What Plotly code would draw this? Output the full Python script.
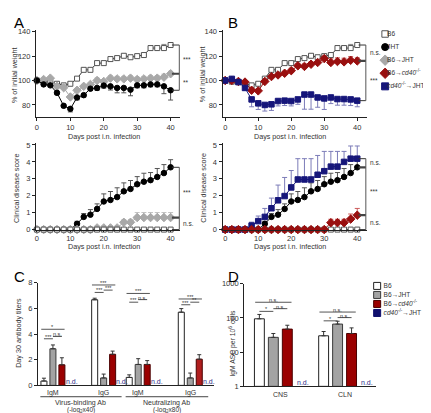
import math
import plotly.graph_objects as go

W, H = 431, 413
FONT = "Liberation Sans, Arial, sans-serif"
TXT = "#333333"


def fx(p):
    return p / W


def fy(p):
    return 1 - p / H


# ---------------- data ----------------
days = [0, 2, 4, 6, 8, 10, 12, 14, 16, 18, 20, 22, 24, 26, 28, 30, 32, 34, 36, 38, 40]
day_ticks = [0, 10, 20, 30, 40]
weight_ticks = [80, 100, 120, 140]
score_ticks = [0, 1, 2, 3, 4, 5]

# % of initial weight
weight_b6 = [100, 99, 98.7, 97.3, 96, 97.3, 101.5, 108.7, 108.7, 114.2, 114.2, 117.5, 118.3, 120.2, 119, 119.9, 120.8, 126.5, 126.5, 126.5, 129]
weight_b6_err = [0, 1, 1, 1, 1, 1, 1, 1.5, 1.5, 1.5, 1.5, 1.5, 1.5, 1.5, 1.5, 1.5, 1.5, 2, 2, 3, 2]
weight_jht = [100, 96.8, 96, 89.9, 79.3, 76.8, 86.1, 88, 93.3, 93.9, 95.8, 95.2, 93.9, 93.9, 92.5, 96, 96, 96.8, 96.8, 95.2, 92]
weight_jht_err = [0, 1, 1, 1.5, 1.5, 2.5, 2, 1.5, 1.5, 2, 2, 3, 4, 4, 5, 2, 2, 2, 2, 6, 8]
weight_b6jht = [100, 100.8, 101.9, 95.2, 94.1, 86.5, 92, 95.2, 96.8, 100, 99.2, 101.9, 101.3, 101.3, 101.9, 100.8, 101.3, 101.9, 101.9, 102.7, 105.5]
weight_b6jht_err = [0, 1, 1, 1.5, 1.5, 1.5, 1.5, 1.5, 1.5, 2, 1.5, 2, 2, 2, 2, 2, 2, 2, 2, 2.5, 2]
weight_b6cd40 = [100, 100, 99.2, 98.7, 92, 91.5, 99.2, 103.2, 104.5, 105.9, 108, 112, 111.5, 113.3, 114.7, 117.9, 114.7, 115.5, 115.2, 116.5, 116]
weight_b6cd40_err = [0, 1, 1, 1, 1.5, 1.5, 1.5, 1.5, 1.5, 1.5, 2, 2, 2, 2, 2, 2, 3, 3, 3, 3, 2.5]
weight_cd40jht = [100, 101.3, 98.7, 93.9, 84.5, 81.3, 80, 80.5, 83.2, 83.5, 83.2, 84.5, 88.5, 88.5, 86.1, 85.3, 86.1, 84.8, 84.8, 84.5, 83.5]
weight_cd40jht_err = [0, 1, 2, 2, 6, 5, 5, 5, 4, 4, 4, 4, 12, 12, 8, 9, 5, 5, 5, 5, 5]

# clinical disease score
score_b6 = [0, 0, 0, 0, 0, 0, 0, 0, 0, 0, 0, 0, 0, 0, 0, 0, 0, 0, 0, 0, 0]
score_jht = [0, 0, 0, 0, 0, 0, 0.34, 0.75, 0.88, 1.22, 1.66, 1.75, 1.92, 2.26, 2.4, 2.68, 2.83, 2.92, 3.11, 3.34, 3.68]
score_jht_err = [0, 0, 0, 0, 0, 0, 0.15, 0.2, 0.3, 0.3, 0.45, 0.5, 0.55, 0.5, 0.5, 0.45, 0.5, 0.45, 0.5, 0.5, 0.45]
score_b6jht = [0, 0, 0, 0, 0, 0, 0, 0, 0, 0.1, 0.1, 0.1, 0.1, 0.43, 0.43, 0.71, 0.71, 0.71, 0.71, 0.71, 0.71]
score_b6jht_err = [0, 0, 0, 0, 0, 0, 0, 0, 0, 0.1, 0.1, 0.1, 0.1, 0.15, 0.15, 0.3, 0.3, 0.3, 0.3, 0.3, 0.3]
score_b6cd40 = [0, 0, 0, 0, 0, 0, 0, 0, 0, 0, 0, 0, 0, 0, 0, 0, 0.41, 0.41, 0.41, 0.62, 0.85]
score_b6cd40_err = [0, 0, 0, 0, 0, 0, 0, 0, 0, 0, 0, 0, 0, 0, 0, 0, 0.2, 0.2, 0.2, 0.3, 0.4]
score_cd40jht = [0, 0, 0, 0, 0.24, 0.5, 0.75, 1.26, 1.73, 1.98, 2.49, 2.96, 2.96, 2.96, 3.24, 3.45, 3.72, 3.72, 4.0, 4.19, 4.19]
score_cd40jht_err = [0, 0, 0, 0, 0.2, 0.3, 0.5, 0.6, 0.9, 1.1, 1.0, 1.23, 1.23, 1.23, 1.14, 1.17, 0.9, 0.9, 0.62, 0.75, 0.75]

# panel C: day 30 antibody titers
titer_groups = ["IgM", "IgG", "IgM", "IgG"]
titer_group_start = [0, 5.65, 9.5, 15.3]
titer_b6 = [0.34, 6.67, 0.62, 5.7]
titer_b6_err = [0.22, 0.12, 0.2, 0.28]
titer_b6jht = [2.85, 0.58, 1.63, 0.58]
titer_b6jht_err = [0.3, 0.3, 0.45, 0.38]
titer_b6cd40 = [1.6, 2.42, 1.63, 2.04]
titer_b6cd40_err = [0.55, 0.25, 0.3, 0.35]
titer_sections = ["Virus-binding Ab", "Neutralizing Ab"]
titer_section_units = ["(-log<sub>2</sub>x40)", "(-log<sub>2</sub>x80)"]
titer_sig_group = [0, 0, 0, 1, 1, 1, 2, 2, 2, 3, 3, 3]
titer_sig_from = [0, 0, 1, 0, 0, 1, 0, 0, 1, 0, 0, 1]
titer_sig_to = [2, 1, 2, 2, 1, 2, 2, 1, 2, 2, 1, 2]
titer_sig_level = [4.37, 3.63, 3.81, 7.82, 7.24, 7.42, 7.16, 6.48, 6.68, 6.73, 6.28, 6.48]
titer_sig_label = ["*", "***", "n.s.", "***", "***", "***", "***", "***", "n.s.", "***", "***", "**"]

# panel D: IgM ASC per 10^6 cells
asc_tissues = ["CNS", "CLN"]
asc_group_start = [0, 4.6]
asc_b6 = [93, 29]
asc_b6_err = [32, 10]
asc_b6jht = [26, 65]
asc_b6jht_err = [8, 14]
asc_b6cd40 = [46, 34]
asc_b6cd40_err = [14, 16]
asc_sig_group = [0, 0, 0, 1, 1, 1]
asc_sig_from = [0, 0, 1, 0, 0, 1]
asc_sig_to = [2, 1, 2, 2, 1, 2]
asc_sig_level = [286, 155, 186, 148, 82, 102]
asc_sig_label = ["n.s.", "*", "n.s.", "n.s.", "*", "n.s."]

series_labels = ["B6", "JHT", "B6→JHT", "B6→<i>cd40</i><sup>-/-</sup>", "<i>cd40</i><sup>-/-</sup>→JHT"]
bar_labels = ["B6", "B6→JHT", "B6→<i>cd40</i><sup>-/-</sup>", "<i>cd40</i><sup>-/-</sup>→JHT"]

# ---------------- styles ----------------
STY = {
    "B6": dict(symbol="square", size=5, fill="white", edge="#555555", line="#333333", err="#888888"),
    "JHT": dict(symbol="circle", size=5.5, fill="#000000", edge="#000000", line="#000000", err="#555555"),
    "B6>JHT": dict(symbol="diamond", size=6.5, fill="#a8a8a8", edge="#a8a8a8", line="#a8a8a8", err="#c4c4c4"),
    "B6>cd40": dict(symbol="diamond", size=6.5, fill="#990f0f", edge="#990f0f", line="#990f0f", err="#cc5a5a"),
    "cd40>JHT": dict(symbol="square", size=5.5, fill="#16167a", edge="#16167a", line="#16167a", err="#7c7cb8"),
}
ORDER = ["B6", "JHT", "B6>JHT", "B6>cd40", "cd40>JHT"]
BAR_FILL = ["white", "#a3a3a3", "#9a0000", "#10106e"]
BAR_EDGE = ["#222222", "#3a3a3a", "#4a0000", "#10106e"]

fig = go.Figure()


def line_trace(xa, ya, y, err, key, up=True):
    s = STY[key]
    zeros = [0 for _ in err]
    fig.add_trace(go.Scatter(
        x=days, y=y, xaxis=xa, yaxis=ya, mode="lines+markers", cliponaxis=False,
        line=dict(color=s["line"], width=1),
        marker=dict(symbol=s["symbol"], size=s["size"], color=s["fill"],
                    line=dict(color=s["edge"], width=1)),
        error_y=dict(type="data", symmetric=False,
                     array=err if up else zeros,
                     arrayminus=zeros if up else err,
                     color=s["err"], thickness=1, width=2.5),
        showlegend=False, hoverinfo="skip"))


# A top
line_trace("x", "y", weight_b6, weight_b6_err, "B6", True)
line_trace("x", "y", weight_b6jht, weight_b6jht_err, "B6>JHT", True)
line_trace("x", "y", weight_jht, weight_jht_err, "JHT", False)
# A bottom
line_trace("x2", "y2", score_jht, score_jht_err, "JHT", True)
line_trace("x2", "y2", score_b6jht, score_b6jht_err, "B6>JHT", True)
line_trace("x2", "y2", score_b6, score_b6, "B6", True)
# B top
line_trace("x3", "y3", weight_b6, weight_b6_err, "B6", True)
line_trace("x3", "y3", weight_b6cd40, weight_b6cd40_err, "B6>cd40", True)
line_trace("x3", "y3", weight_cd40jht, weight_cd40jht_err, "cd40>JHT", False)
# B bottom
line_trace("x4", "y4", score_b6, score_b6, "B6", True)
line_trace("x4", "y4", score_jht, score_jht_err, "JHT", True)
line_trace("x4", "y4", score_cd40jht, score_cd40jht_err, "cd40>JHT", True)
line_trace("x4", "y4", score_b6cd40, score_b6cd40_err, "B6>cd40", True)

shapes = []
annots = []


def bracket(xa, ya, xpos, levels, labels, label_px):
    n = len(levels)
    for i, lv in enumerate(levels):
        mid = 0 < i < n - 1
        shapes.append(dict(type="line", xref=xa, yref=ya, x0=40.4, x1=xpos, y0=lv, y1=lv,
                           line=dict(color="#444444" if mid else "#333333", width=2.2 if mid else 1)))
    shapes.append(dict(type="line", xref=xa, yref=ya, x0=xpos, x1=xpos, y0=levels[0], y1=levels[-1],
                       line=dict(color="#555555", width=1)))
    for i, lab in enumerate(labels):
        annots.append(dict(xref="paper", yref=ya, x=fx(label_px), y=(levels[i] + levels[i + 1]) / 2,
                           text=lab, showarrow=False, xanchor="left", yanchor="middle",
                           font=dict(family=FONT, size=6.5, color=TXT)))


bracket("x", "y", 42.6, [weight_b6[-1], weight_b6jht[-1], weight_jht[-1]], ["***", "**"], 172)
bracket("x2", "y2", 42.6, [score_jht[-1], score_b6jht[-1], score_b6[-1]], ["***", "n.s."], 172)
bracket("x3", "y3", 42.6, [weight_b6[-1], weight_b6cd40[-1], weight_cd40jht[-1]], ["n.s.", "***"], 359.5)
bracket("x4", "y4", 42.6, [score_cd40jht[-1], score_jht[-1], score_b6cd40[-1], score_b6[-1]],
        ["n.s.", "***", "n.s."], 359.5)

# ---------------- panel C bars ----------------
titer_vals = [titer_b6, titer_b6jht, titer_b6cd40]
titer_errs = [titer_b6_err, titer_b6jht_err, titer_b6cd40_err]
for k in range(3):
    col = BAR_FILL[k]
    if k == 2:
        col = [BAR_FILL[2], BAR_FILL[2], BAR_FILL[2], "#b01e1e"]
    fig.add_trace(go.Bar(
        x=[g + k for g in titer_group_start], y=titer_vals[k], width=0.67,
        xaxis="x5", yaxis="y5", marker=dict(color=col, line=dict(color=BAR_EDGE[k], width=1)),
        error_y=dict(type="data", symmetric=False, array=titer_errs[k],
                     arrayminus=[0 for _ in titer_errs[k]], color="#333333", thickness=1, width=2),
        showlegend=False, hoverinfo="skip"))

for gi, g in enumerate(titer_group_start):
    annots.append(dict(xref="x5", yref="y5", x=g + 3.1, y=0, text="n.d.", showarrow=False,
                       xanchor="center", yanchor="bottom", yshift=-2,
                       font=dict(family=FONT, size=7, color="#2a2a8a")))
    annots.append(dict(xref="x5", yref="paper", x=g + 1, y=fy(389), text=titer_groups[gi],
                       showarrow=False, xanchor="center", yanchor="middle",
                       font=dict(family=FONT, size=7, color=TXT)))

for i in range(len(titer_sig_level)):
    g = titer_group_start[titer_sig_group[i]]
    a, b = titer_sig_from[i], titer_sig_to[i]
    long = (b - a) == 2
    x0 = g + a - (0.3 if long else 0)
    x1 = g + b + (0.3 if long else 0)
    shapes.append(dict(type="line", xref="x5", yref="y5", x0=x0, x1=x1,
                       y0=titer_sig_level[i], y1=titer_sig_level[i],
                       line=dict(color="#555555", width=1)))
    annots.append(dict(xref="x5", yref="y5", x=(x0 + x1) / 2, y=titer_sig_level[i],
                       text=titer_sig_label[i], showarrow=False, xanchor="center", yanchor="bottom",
                       yshift=-3, font=dict(family=FONT, size=5.5, color=TXT)))

sec_bounds = [(titer_group_start[0] - 0.4, titer_group_start[1] + 3.0),
              (titer_group_start[2] - 0.4, titer_group_start[3] + 3.0)]
for si, (a, b) in enumerate(sec_bounds):
    shapes.append(dict(type="line", xref="x5", yref="paper", x0=a, x1=b, y0=fy(393.3), y1=fy(393.3),
                       line=dict(color="#444444", width=1)))
    annots.append(dict(xref="x5", yref="paper", x=(a + b) / 2, y=fy(399.5), text=titer_sections[si],
                       showarrow=False, xanchor="center", yanchor="middle",
                       font=dict(family=FONT, size=7, color=TXT)))
    annots.append(dict(xref="x5", yref="paper", x=(a + b) / 2, y=fy(406.5), text=titer_section_units[si],
                       showarrow=False, xanchor="center", yanchor="middle", borderpad=0,
                       font=dict(family=FONT, size=6.5, color=TXT)))

# ---------------- panel D bars ----------------
asc_vals = [asc_b6, asc_b6jht, asc_b6cd40]
asc_errs = [asc_b6_err, asc_b6jht_err, asc_b6cd40_err]
for k in range(3):
    fig.add_trace(go.Bar(
        x=[g + k for g in asc_group_start], y=asc_vals[k], width=0.71, base=1,
        xaxis="x6", yaxis="y6", marker=dict(color=BAR_FILL[k], line=dict(color=BAR_EDGE[k], width=1)),
        error_y=dict(type="data", symmetric=False, array=asc_errs[k],
                     arrayminus=[0 for _ in asc_errs[k]], color="#333333", thickness=1, width=2),
        showlegend=False, hoverinfo="skip"))

for gi, g in enumerate(asc_group_start):
    annots.append(dict(xref="x6", yref="paper", x=g + 3.1, y=fy(382.7), text="n.d.", showarrow=False,
                       xanchor="center", yanchor="bottom", yshift=-2,
                       font=dict(family=FONT, size=7, color="#2a2a8a")))
    annots.append(dict(xref="x6", yref="paper", x=g + 1.5, y=fy(391.5), text=asc_tissues[gi],
                       showarrow=False, xanchor="center", yanchor="middle",
                       font=dict(family=FONT, size=7, color=TXT)))

for i in range(len(asc_sig_level)):
    g = asc_group_start[asc_sig_group[i]]
    a, b = asc_sig_from[i], asc_sig_to[i]
    long = (b - a) == 2
    x0 = g + a - (0.3 if long else 0)
    x1 = g + b + (0.3 if long else 0)
    shapes.append(dict(type="line", xref="x6", yref="y6", x0=x0, x1=x1,
                       y0=asc_sig_level[i], y1=asc_sig_level[i],
                       line=dict(color="#555555", width=1)))
    annots.append(dict(xref="x6", yref="y6", x=(x0 + x1) / 2, y=math.log10(asc_sig_level[i]),
                       text=asc_sig_label[i], showarrow=False, xanchor="center", yanchor="bottom",
                       yshift=-3, font=dict(family=FONT, size=5.5, color=TXT)))

# ---------------- legends (hidden helper axes) ----------------
for i, key in enumerate(ORDER):
    s = STY[key]
    fig.add_trace(go.Scatter(
        x=[7], y=[-i], xaxis="x7", yaxis="y7", mode="markers", cliponaxis=False,
        marker=dict(symbol=s["symbol"], size=s["size"] + 1.5, color=s["fill"],
                    line=dict(color=s["edge"], width=1)),
        showlegend=False, hoverinfo="skip"))
    fig.add_trace(go.Scatter(
        x=[9], y=[-i], xaxis="x7", yaxis="y7", mode="text", cliponaxis=False,
        text=[series_labels[i]], textposition="middle right",
        textfont=dict(family=FONT, size=6.6, color=TXT), showlegend=False, hoverinfo="skip"))

for i, lab in enumerate(bar_labels):
    fig.add_trace(go.Scatter(
        x=[9], y=[-i], xaxis="x8", yaxis="y8", mode="markers", cliponaxis=False,
        marker=dict(symbol="square", size=7, color=BAR_FILL[i],
                    line=dict(color=BAR_EDGE[i] if i else "#222222", width=1)),
        showlegend=False, hoverinfo="skip"))
    fig.add_trace(go.Scatter(
        x=[15.5], y=[-i], xaxis="x8", yaxis="y8", mode="text", cliponaxis=False,
        text=[lab], textposition="middle right",
        textfont=dict(family=FONT, size=6.6, color=TXT), showlegend=False, hoverinfo="skip"))

# ---------------- titles / labels ----------------
def txt(x, y, t, size=7.2, angle=0, xanchor="center", color=TXT):
    annots.append(dict(xref="paper", yref="paper", x=fx(x), y=fy(y), text=t, showarrow=False,
                       xanchor=xanchor, yanchor="middle", textangle=angle,
                       font=dict(family=FONT, size=size, color=color)))


txt(3, 11, "A", 15, xanchor="left", color="#000000")
txt(218, 11, "B", 15, xanchor="left", color="#000000")
txt(3, 270, "C", 15, xanchor="left", color="#000000")
txt(218, 270, "D", 15, xanchor="left", color="#000000")
txt(95, 127, "Days post i.n. infection")
txt(282, 127, "Days post i.n. infection")
txt(95, 240, "Days post i.n. infection")
txt(282, 240, "Days post i.n. infection")
txt(5.5, 64, "% of initial weight", angle=-90)
txt(194, 64, "% of initial weight", angle=-90)
txt(7, 180, "Clinical disease score", angle=-90)
txt(195, 180, "Clinical disease score", angle=-90)
txt(10, 328, "Day 30 antibody titers", angle=-90)
txt(224.5, 338, "IgM ASC per 10<sup>6</sup> cells", size=6.8, angle=-90)


def ax(**kw):
    d = dict(showline=True, linecolor="#222222", linewidth=1, ticks="outside", ticklen=3,
             tickwidth=1, tickcolor="#222222", showgrid=False, zeroline=False,
             tickfont=dict(family=FONT, size=7.5, color=TXT), fixedrange=True)
    d.update(kw)
    return d


hidden = dict(visible=False, fixedrange=True, showgrid=False, zeroline=False)

fig.update_layout(
    width=W, height=H, margin=dict(l=0, r=0, t=0, b=0),
    paper_bgcolor="white", plot_bgcolor="white", showlegend=False, barmode="overlay",
    font=dict(family=FONT, size=7.5, color=TXT),
    xaxis=ax(domain=[fx(27), fx(171.7)], range=[-0.3, 42.9], tickvals=day_ticks, anchor="y"),
    yaxis=ax(domain=[fy(107), fy(18)], range=[70.4, 141.6], tickvals=weight_ticks, anchor="x"),
    xaxis2=ax(domain=[fx(27), fx(171.7)], range=[-0.3, 42.9], tickvals=day_ticks, ticklen=1, anchor="y2"),
    yaxis2=ax(domain=[fy(223.3), fy(134.2)], range=[-0.05, 5.1], tickvals=score_ticks, anchor="x2"),
    xaxis3=ax(domain=[fx(214), fx(359)], range=[-0.82, 43.0], tickvals=day_ticks, anchor="y3"),
    yaxis3=ax(domain=[fy(107), fy(18)], range=[70.4, 141.6], tickvals=weight_ticks, anchor="x3"),
    xaxis4=ax(domain=[fx(214), fx(359)], range=[-0.82, 43.0], tickvals=day_ticks, ticklen=1, anchor="y4"),
    yaxis4=ax(domain=[fy(223.3), fy(134.2)], range=[-0.05, 5.1], tickvals=score_ticks, anchor="x4"),
    xaxis5=ax(domain=[fx(29), fx(205)], range=[-0.67, 18.89], ticks="", showticklabels=False, anchor="y5"),
    yaxis5=ax(domain=[fy(381.7), fy(276.7)], range=[0, 8], tickvals=[0, 2, 4, 6, 8], anchor="x5"),
    xaxis6=ax(domain=[fx(235.7), fx(368)], range=[-1.09, 8.36], ticks="", showticklabels=False, anchor="y6"),
    yaxis6=ax(domain=[fy(382.7), fy(277.7)], type="log", range=[0, 3], tickvals=[1, 10, 100, 1000],
              ticktext=["1", "10", "100", "1000"], anchor="x6"),
    xaxis7=dict(hidden, domain=[fx(370), fx(431)], range=[0, 61], anchor="y7"),
    yaxis7=dict(hidden, domain=[fy(82.7), fy(15.8)], range=[-4.5, 0.5], anchor="x7"),
    xaxis8=dict(hidden, domain=[fx(360), fx(431)], range=[0, 71], anchor="y8"),
    yaxis8=dict(hidden, domain=[fy(312.3), fy(275.4)], range=[-3.5, 0.5], anchor="x8"),
    shapes=shapes, annotations=annots,
)

fig.write_html("out.html")
